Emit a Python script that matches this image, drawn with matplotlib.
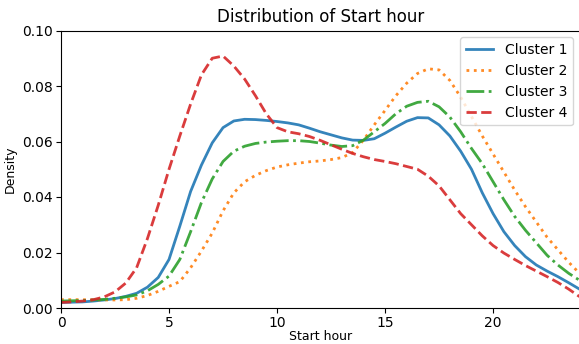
import matplotlib
matplotlib.use('Agg')
import matplotlib.pyplot as plt
import numpy as np

# start hour grid (half hour steps), density
hours = np.arange(0, 24.5, 0.5)

cluster1 = [0.0020, 0.0021, 0.0022, 0.0025, 0.0029, 0.0034, 0.0042, 0.0053, 0.0075, 0.0110,
            0.0175, 0.0295, 0.0420, 0.0515, 0.0595, 0.0650, 0.0674, 0.0680, 0.0679, 0.0676,
            0.0672, 0.0667, 0.0660, 0.0648, 0.0635, 0.0624, 0.0613, 0.0605, 0.0604, 0.0610,
            0.0630, 0.0652, 0.0673, 0.0686, 0.0685, 0.0660, 0.0620, 0.0565, 0.0500, 0.0415,
            0.0340, 0.0275, 0.0225, 0.0185, 0.0155, 0.0133, 0.0113, 0.0091, 0.0068]
cluster2 = [0.0030, 0.0030, 0.0030, 0.0029, 0.0029, 0.0029, 0.0030, 0.0035, 0.0045, 0.0060,
            0.0078, 0.0095, 0.0145, 0.0205, 0.0270, 0.0350, 0.0415, 0.0455, 0.0478, 0.0495,
            0.0508, 0.0516, 0.0522, 0.0527, 0.0530, 0.0535, 0.0542, 0.0560, 0.0605, 0.0660,
            0.0712, 0.0765, 0.0810, 0.0845, 0.0862, 0.0858, 0.0820, 0.0760, 0.0690, 0.0620,
            0.0555, 0.0490, 0.0425, 0.0365, 0.0310, 0.0255, 0.0210, 0.0165, 0.0125]
cluster3 = [0.0025, 0.0026, 0.0027, 0.0029, 0.0031, 0.0035, 0.0040, 0.0047, 0.0062, 0.0085,
            0.0115, 0.0175, 0.0275, 0.0380, 0.0465, 0.0528, 0.0565, 0.0583, 0.0593, 0.0598,
            0.0601, 0.0603, 0.0603, 0.0600, 0.0594, 0.0587, 0.0582, 0.0585, 0.0605, 0.0635,
            0.0665, 0.0700, 0.0727, 0.0741, 0.0745, 0.0725, 0.0688, 0.0635, 0.0575, 0.0520,
            0.0455, 0.0390, 0.0330, 0.0280, 0.0235, 0.0190, 0.0155, 0.0125, 0.0100]
cluster4 = [0.0020, 0.0022, 0.0025, 0.0030, 0.0040, 0.0058, 0.0090, 0.0145, 0.0250, 0.0370,
            0.0500, 0.0620, 0.0735, 0.0840, 0.0900, 0.0908, 0.0872, 0.0825, 0.0765, 0.0700,
            0.0650, 0.0635, 0.0628, 0.0618, 0.0604, 0.0588, 0.0572, 0.0557, 0.0545, 0.0535,
            0.0528, 0.0520, 0.0510, 0.0500, 0.0475, 0.0440, 0.0390, 0.0340, 0.0300, 0.0260,
            0.0225, 0.0198, 0.0175, 0.0153, 0.0133, 0.0113, 0.0092, 0.0068, 0.0041]

labels = ['Cluster 1', 'Cluster 2', 'Cluster 3', 'Cluster 4']
series = [cluster1, cluster2, cluster3, cluster4]
styles = ['-', ':', '-.', '--']
colors = ['#1f77b4', '#ff7f0e', '#2ca02c', '#d62728']

fig = plt.figure(figsize=(5.79, 3.44), dpi=100)
ax = fig.add_axes([61 / 579, 36 / 344, 518.5 / 579, 277.5 / 344])

for y, lab, ls, c in zip(series, labels, styles, colors):
    ax.plot(hours, y, linestyle=ls, color=c, label=lab, linewidth=2, alpha=0.9)

ax.set_xlim(0, 24)
ax.set_ylim(0, 0.10)
ax.set_yticks([0, 0.02, 0.04, 0.06, 0.08, 0.10])
ax.set_xticks([0, 5, 10, 15, 20])
ax.set_title('Distribution of Start hour', fontsize=12)
ax.set_xlabel('Start hour', fontsize=9, labelpad=0)
ax.set_ylabel('Density', fontsize=9)
ax.tick_params(labelsize=10, pad=2.5)
ax.legend(loc='upper right', fontsize=10)

fig.savefig('out.png', dpi=100)
